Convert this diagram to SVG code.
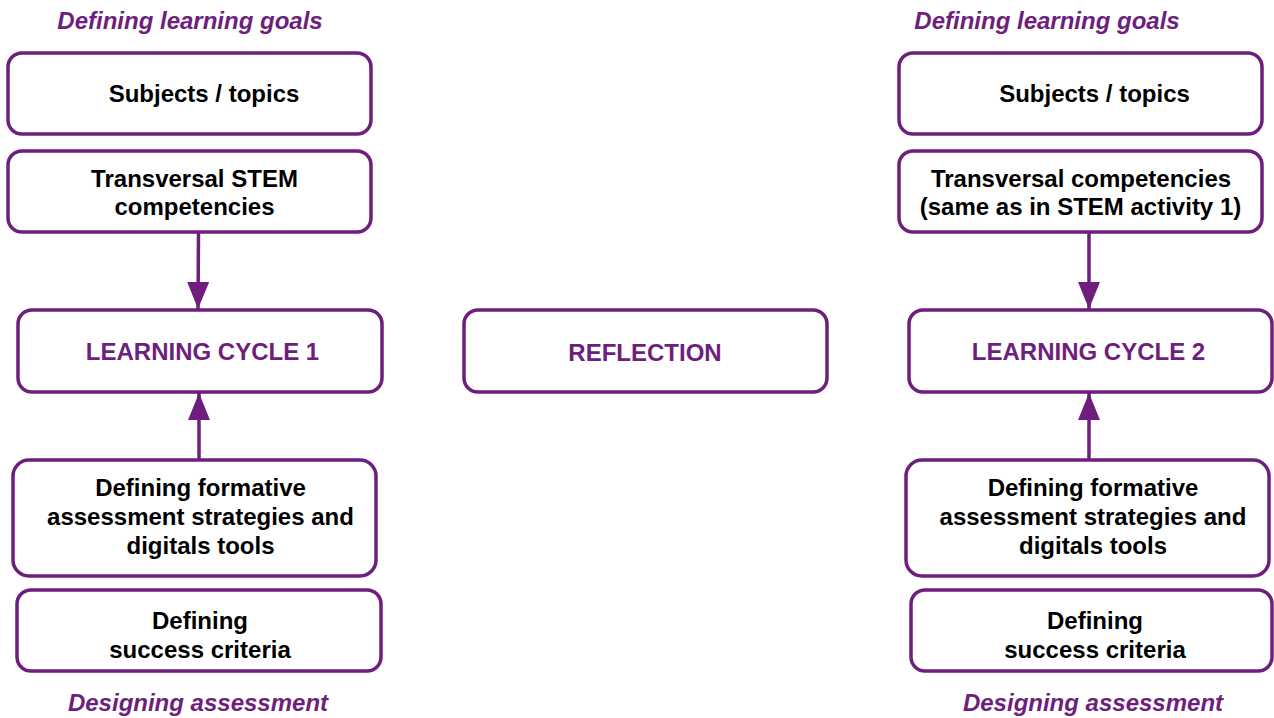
<svg xmlns="http://www.w3.org/2000/svg" width="1274" height="718" viewBox="0 0 1274 718">
<style>
.box{fill:#fff;stroke:#6e1e7c;stroke-width:3.5}
.t{font-family:"Liberation Sans",Arial,sans-serif;font-weight:bold;font-size:24px;fill:#000;text-anchor:middle}
.p{fill:#6e1e7c}
.h{font-family:"Liberation Sans",Arial,sans-serif;font-weight:bold;font-style:italic;font-size:24px;fill:#6e1e7c;text-anchor:middle}
.c{stroke:#6e1e7c;stroke-width:3.5;fill:none}
</style>
<defs>
<marker id="ah" markerWidth="27" markerHeight="22" refX="27" refY="11" viewBox="0 0 27 22" markerUnits="userSpaceOnUse" orient="auto">
<path d="M0,0 L27,11 L0,22 Z" fill="#6e1e7c"/>
</marker>
</defs>
<rect width="1274" height="718" fill="#fff"/>
<text class="h" x="190" y="29">Defining learning goals</text>
<text class="h" x="1047" y="29">Defining learning goals</text>
<text class="h" x="198" y="711">Designing assessment</text>
<text class="h" x="1093" y="711">Designing assessment</text>
<g id="connectors">
<line class="c" x1="198.5" y1="233" x2="198" y2="309" marker-end="url(#ah)"/>
<line class="c" x1="199" y1="460" x2="199" y2="393" marker-end="url(#ah)"/>
<line class="c" x1="1089" y1="233" x2="1089" y2="309" marker-end="url(#ah)"/>
<line class="c" x1="1089" y1="460" x2="1089" y2="393" marker-end="url(#ah)"/>
</g>
<g id="subjects1"><rect class="box" x="8" y="53" width="363" height="81" rx="14"/><text class="t" x="204" y="102">Subjects / topics</text></g>
<g id="transversal1"><rect class="box" x="8" y="151" width="363" height="81" rx="14"/><text class="t" x="194.5" y="187">Transversal STEM</text><text class="t" x="194.5" y="215">competencies</text></g>
<g id="cycle1"><rect class="box" x="18" y="310" width="364" height="82" rx="14"/><text class="t p" x="202.5" y="360">LEARNING CYCLE 1</text></g>
<g id="formative1"><rect class="box" x="13" y="460" width="363" height="116" rx="16"/><text class="t" x="200.5" y="496">Defining formative</text><text class="t" x="200.5" y="525">assessment strategies and</text><text class="t" x="200.5" y="554">digitals tools</text></g>
<g id="success1"><rect class="box" x="17" y="590" width="364" height="81" rx="14"/><text class="t" x="200" y="629">Defining</text><text class="t" x="200" y="658">success criteria</text></g>
<g id="reflection"><rect class="box" x="464" y="310" width="363" height="82" rx="14"/><text class="t p" x="645" y="361">REFLECTION</text></g>
<g id="subjects2"><rect class="box" x="899" y="53" width="363" height="81" rx="14"/><text class="t" x="1094.5" y="102">Subjects / topics</text></g>
<g id="transversal2"><rect class="box" x="899" y="151" width="363" height="81" rx="14"/><text class="t" x="1081" y="187">Transversal competencies</text><text class="t" x="1080.5" y="215">(same as in STEM activity 1)</text></g>
<g id="cycle2"><rect class="box" x="909" y="310" width="363" height="82" rx="14"/><text class="t p" x="1088.5" y="360">LEARNING CYCLE 2</text></g>
<g id="formative2"><rect class="box" x="906" y="460" width="363" height="116" rx="16"/><text class="t" x="1093" y="496">Defining formative</text><text class="t" x="1093" y="525">assessment strategies and</text><text class="t" x="1093" y="554">digitals tools</text></g>
<g id="success2"><rect class="box" x="911" y="590" width="361" height="81" rx="14"/><text class="t" x="1095" y="629">Defining</text><text class="t" x="1095" y="658">success criteria</text></g>
</svg>
